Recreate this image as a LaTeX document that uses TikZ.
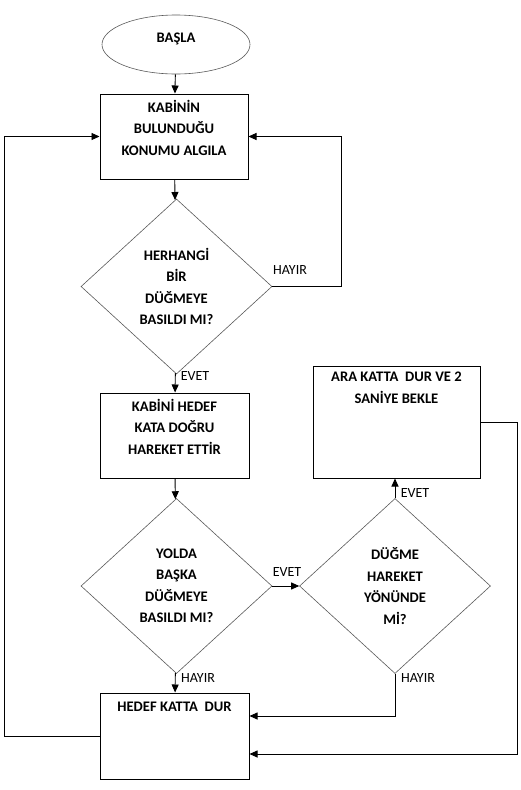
\documentclass[tikz,border=0pt]{standalone}
\usepackage{fontspec}
\setmainfont{Carlito}
\usepackage{tikz}
\usetikzlibrary{shapes,arrows,positioning,calc,arrows.meta}

\begin{document}
\begin{tikzpicture}[x=1pt, y=-1pt,
    txt/.style={font=\bfseries\fontsize{14.6}{21.5}\selectfont},
    box/.style={draw, line width=1pt, inner sep=0pt},
    boxtext/.style={txt, anchor=north, align=center, yshift=-3pt, execute at begin node={\rule{0pt}{12pt}}},
    decision/.style={txt, diamond, draw=black!65, line width=0.6pt, aspect=1.1, inner sep=0pt, align=center, minimum width=191pt, minimum height=175pt},
    lbl/.style={font=\fontsize{14}{16}\selectfont, inner sep=0pt},
    flow/.style={line width=0.9pt, -{Triangle[length=8pt,width=7pt]}},
    link/.style={line width=0.9pt}]
    \useasboundingbox (0,0) rectangle (521,790);

    % Start
    \node[txt, ellipse, draw=black!65, line width=0.6pt, minimum width=148pt, minimum height=59pt, inner sep=0pt, text height=9pt, text depth=14pt] (basla) at (176,44.5) {BAŞLA};

    % Main column
    \node[box, minimum width=148pt, minimum height=85pt, label={[boxtext]north:KABİNİN\\BULUNDUĞU\\KONUMU ALGILA}] (algila) at (174,136.5) {};
    \node[decision] (herhangi) at (176.5,286.5) {HERHANGİ\\BİR\\DÜĞMEYE\\BASILDI MI?};
    \node[box, minimum width=149pt, minimum height=85pt, label={[boxtext]north:KABİNİ HEDEF\\KATA DOĞRU\\HAREKET ETTİR}] (hareket) at (174.5,435.5) {};
    \node[decision] (yolda) at (176.5,586) {YOLDA\\BAŞKA\\DÜĞMEYE\\BASILDI MI?};
    \node[box, minimum width=149pt, minimum height=86pt, label={[boxtext]north:HEDEF KATTA\ \ DUR}] (dur) at (174.5,736) {};

    % Right column
    \node[decision] (yonunde) at (395,586) {DÜĞME\\HAREKET\\YÖNÜNDE\\Mİ?};
    \node[box, minimum width=167pt, minimum height=112pt, label={[boxtext]north:ARA KATTA\ \ DUR VE 2\\SANİYE BEKLE}] (bekle) at (396.5,422) {};

    % Connectors
    \draw[flow] (basla) -- (algila);
    \draw[flow] (algila) -- (herhangi);
    \draw[flow] (herhangi.east) -- ++(69,0) |- (algila.east);
    \draw[flow] (herhangi) -- (hareket);
    \draw[flow] (hareket) -- (yolda);
    \draw[flow] (yolda.east) -- (yonunde.west);
    \draw[flow] (yonunde.north) -- (yonunde.north |- bekle.south);
    \draw[flow] (yolda) -- (dur);
    \draw[flow] (yonunde.south) |- ([yshift=20pt]dur.east);
    \draw[flow] (bekle.east) -- ++(37,0) |- ([yshift=-18pt]dur.east);
    \draw[flow] (dur.west) -- ++(-95,0) |- (algila.west);

    % Branch labels
    \node[lbl] (hayir1) at (290,270) {HAYIR};
    \node[lbl] (evet1) at (195,376) {EVET};
    \node[lbl] (evet2) at (287,572) {EVET};
    \node[lbl] (evet3) at (415,493) {EVET};
    \node[lbl] (hayir2) at (198,678) {HAYIR};
    \node[lbl] (hayir3) at (418,678) {HAYIR};
\end{tikzpicture}
\end{document}
